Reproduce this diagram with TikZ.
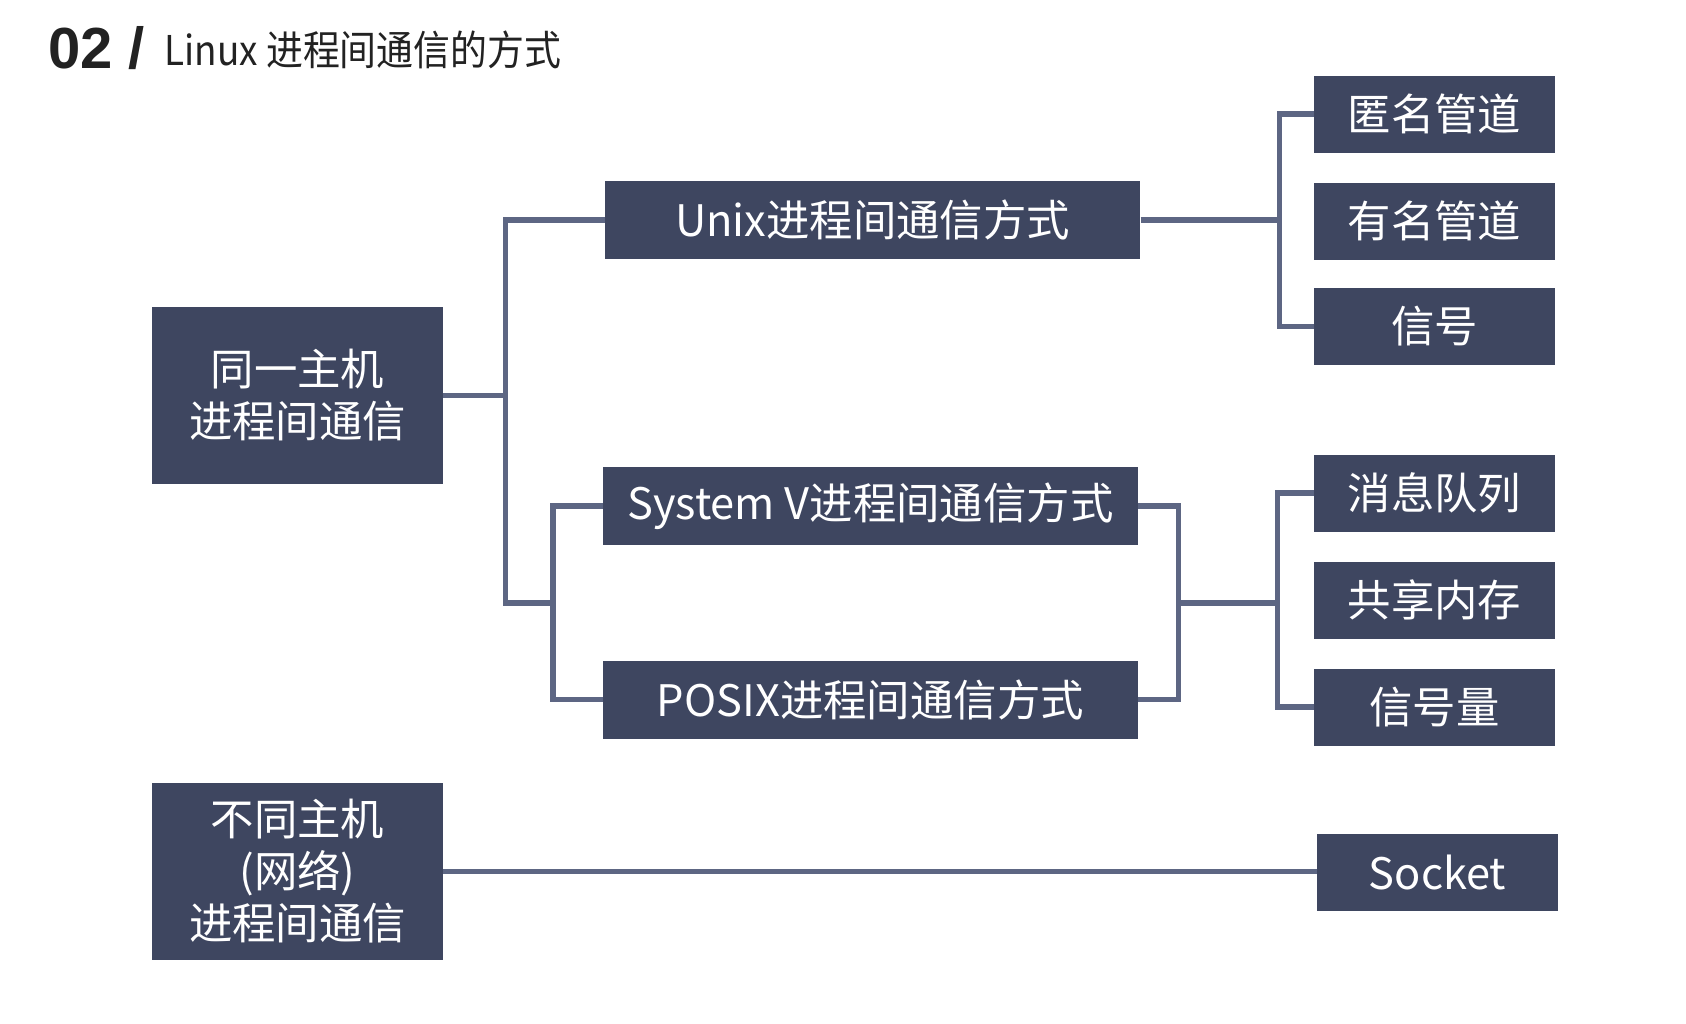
\documentclass[tikz,border=0pt]{standalone}
\usepackage{fontspec}
\newfontfamily\cjk{Noto Sans CJK SC}
\newfontfamily\cjknarrow[FakeStretch=0.9]{Noto Sans CJK SC}
\newfontfamily\arialb{Liberation Sans}
\definecolor{boxfill}{HTML}{3E4660}
\definecolor{linecol}{HTML}{5D6683}
\definecolor{titlecol}{HTML}{222222}
\begin{document}
\begin{tikzpicture}[x=0.5pt,y=-0.5pt,
  box/.style={fill=boxfill,text=white,inner sep=0pt,align=center,
    font={\cjk\fontsize{21.7}{26}\selectfont}},
  bigbox/.style={box,minimum width=145.5pt,minimum height=88.75pt},
  midbox/.style={box,minimum width=267.5pt,minimum height=39pt},
  leafbox/.style={box,minimum width=120.5pt,minimum height=38.5pt},
  conn/.style={draw=linecol,line width=2.8pt,line join=miter}]
\useasboundingbox[fill=white] (0,0) rectangle (1686,1023);
% title
\node[anchor=base west,inner sep=0pt,text=titlecol,font={\arialb\bfseries\fontsize{29}{30}\selectfont}] (num) at (48,68) {02 /};
\node[anchor=base west,inner sep=0pt,text=titlecol,font={\cjknarrow\fontsize{20.5}{22}\selectfont}] (ttl) at (164,65) {Linux 进程间通信的方式};
% big boxes
\node[bigbox] (same) at (297.5,395.3) {同一主机\\进程间通信};
\node[bigbox] (diff) at (297.5,871.5) {不同主机\\(网络)\\进程间通信};
% middle boxes
\node[midbox] (unix) at (872.6,219.8) {Unix进程间通信方式};
\node[midbox] (sysv) at (870.4,506) {System V进程间通信方式};
\node[midbox] (posix) at (870.4,699.5) {POSIX进程间通信方式};
% leaves
\node[leafbox] (anon) at (1434.5,114) {匿名管道};
\node[leafbox] (named) at (1434.5,221) {有名管道};
\node[leafbox] (sig) at (1434.5,326.3) {信号};
\node[leafbox] (msg) at (1434.5,493) {消息队列};
\node[leafbox] (shm) at (1434.5,600) {共享内存};
\node[leafbox] (sem) at (1434.5,707) {信号量};
\node[leafbox] (sock) at (1437.5,872.7) {Socket};
% junctions
\coordinate (ja) at (505.4,602.7);
\coordinate (jb) at (552.7,602.7);
\coordinate (jc) at (1279.6,219.8);
\coordinate (jd) at (1178.5,602.7);
\coordinate (je) at (1277.5,602.7);
% connectors
\draw[conn] (same.east) -- (same.east -| ja);
\draw[conn] (unix.west) -| (ja) -- (jb);
\draw[conn] (sysv.west) -| (jb) |- (posix.west);
\draw[conn] (anon.west) -| (jc) |- (sig.west);
\draw[conn] (unix.east) -- (jc);
\draw[conn] (sysv.east) -| (jd) |- (posix.east);
\draw[conn] (jd) -- (je);
\draw[conn] (msg.west) -| (je) |- (sem.west);
\draw[conn] (diff.east) -- (diff.east -| sock.west);
\end{tikzpicture}
\end{document}
